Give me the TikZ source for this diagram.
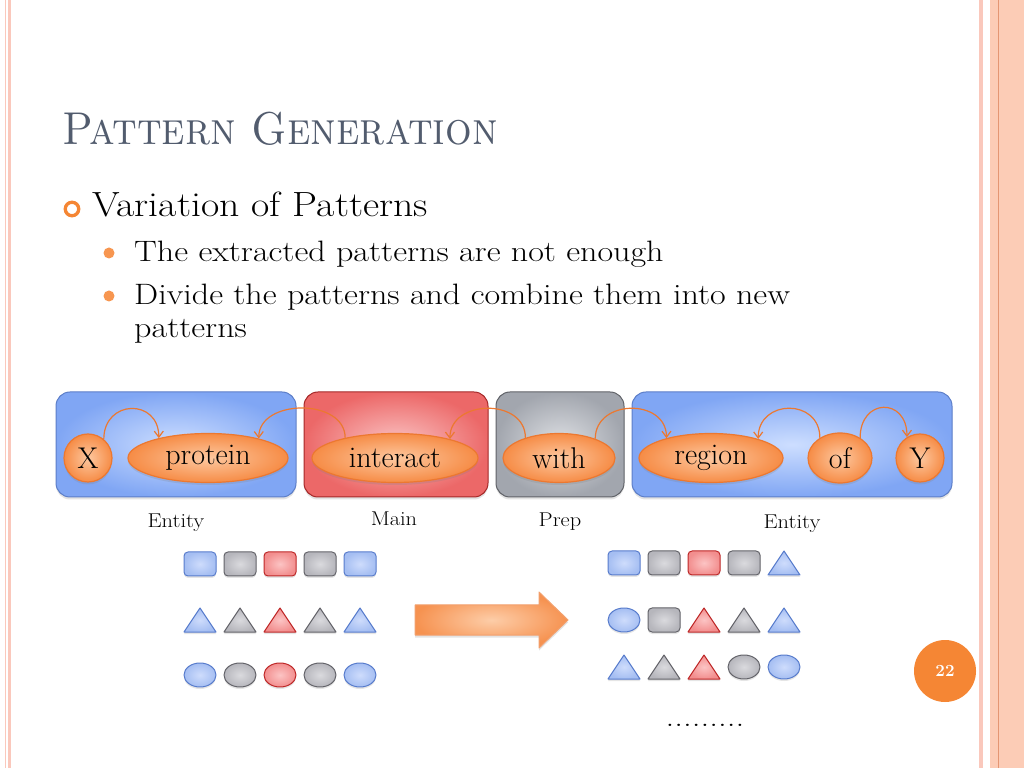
\documentclass[tikz,border=0pt]{standalone}
\usepackage{tikz}
\usetikzlibrary{positioning,shapes.geometric,shadows,arrows.meta}
\definecolor{slideOrange}{RGB}{245,134,52}
\definecolor{bulletOrange}{RGB}{247,150,80}
\definecolor{titleGray}{RGB}{82,92,110}
\definecolor{stripePink}{RGB}{250,200,188}
\definecolor{stripePeach}{RGB}{252,204,182}
\definecolor{stripeLine}{RGB}{228,150,115}
\definecolor{entityInner}{RGB}{205,222,255}
\definecolor{entityOuter}{RGB}{128,166,244}
\definecolor{entityLine}{RGB}{92,126,200}
\definecolor{mainInner}{RGB}{250,196,196}
\definecolor{mainOuter}{RGB}{236,104,104}
\definecolor{mainLine}{RGB}{165,40,40}
\definecolor{prepInner}{RGB}{222,224,228}
\definecolor{prepOuter}{RGB}{162,166,174}
\definecolor{prepLine}{RGB}{96,98,104}
\definecolor{wordInner}{RGB}{253,200,160}
\definecolor{wordOuter}{RGB}{246,140,70}
\definecolor{wordLine}{RGB}{236,120,48}
\definecolor{blueInner}{RGB}{206,220,252}
\definecolor{blueOuter}{RGB}{165,190,242}
\definecolor{blueLine}{RGB}{88,124,204}
\definecolor{grayInner}{RGB}{218,218,222}
\definecolor{grayOuter}{RGB}{182,182,188}
\definecolor{grayLine}{RGB}{100,100,106}
\definecolor{redInner}{RGB}{252,196,196}
\definecolor{redOuter}{RGB}{242,142,142}
\definecolor{redLine}{RGB}{190,40,40}
\definecolor{arrowInner}{RGB}{253,205,168}
\definecolor{arrowOuter}{RGB}{246,146,80}
\definecolor{arrowLine}{RGB}{242,160,110}
\tikzstyle{slide} = [x=1pt, y=1pt]
\tikzstyle{titleText} = [anchor=base west, inner sep=0, color=titleGray, xscale=0.91, font=\fontsize{46}{50}\selectfont\scshape]
\tikzstyle{levelOneText} = [anchor=base west, inner sep=0, xscale=1.135, font=\fontsize{35}{40}\selectfont]
\tikzstyle{levelTwoText} = [anchor=base west, inner sep=0, xscale=1.155, font=\fontsize{29.5}{33}\selectfont]
\tikzstyle{softShadow} = [drop shadow={opacity=0.22, shadow xshift=0pt, shadow yshift=-2.5pt}]
\tikzstyle{groupBox} = [rectangle, rounded corners=14pt, minimum height=105pt, line width=1pt, softShadow]
\tikzstyle{entityBox} = [groupBox, draw=entityLine, inner color=entityInner, outer color=entityOuter]
\tikzstyle{mainBox} = [groupBox, draw=mainLine, inner color=mainInner, outer color=mainOuter]
\tikzstyle{prepBox} = [groupBox, draw=prepLine, inner color=prepInner, outer color=prepOuter]
\tikzstyle{wordNode} = [ellipse, draw=wordLine, line width=1.2pt, inner color=wordInner, outer color=wordOuter, minimum height=49pt, inner sep=0, font=\fontsize{30}{30}\selectfont, softShadow]
\tikzstyle{wordDot} = [wordNode, circle, minimum size=48pt]
\tikzstyle{wordArc} = [draw=wordLine, line width=1.2pt, -{Straight Barb[length=6pt, width=9pt]}]
\tikzstyle{groupLabel} = [anchor=base, inner sep=0, xscale=1.12, font=\fontsize{20}{20}\selectfont]
\tikzstyle{pieceStyle} = [line width=1pt, line join=round, drop shadow={opacity=0.2, shadow xshift=0pt, shadow yshift=-2pt}]
\tikzset{piece/.style={inner color=#1Inner, outer color=#1Outer, draw=#1Line}}
\newcommand{\pieceSquare}[3]{\shadedraw [piece=#3, pieceStyle, rounded corners=4pt] (#1 - 16, #2 - 12) rectangle + (32, 24);}
\newcommand{\pieceTriangle}[3]{\shadedraw [piece=#3, pieceStyle] (#1 - 16, #2 - 12) -- (#1 + 16, #2 - 12) -- (#1, #2 + 12) -- cycle;}
\newcommand{\pieceOval}[3]{\shadedraw [piece=#3, pieceStyle] (#1, #2) ellipse (16pt and 12pt);}

\begin{document}
\begin{tikzpicture}[slide]
\useasboundingbox (0,0) rectangle (1024,768);
\fill [white] (0,0) rectangle (1024,768);
\fill [stripePink] (5,0) rectangle (6.2,768);
\fill [stripePink] (8,0) rectangle (11,768);
\fill [stripePink] (979,0) rectangle (983,768);
\fill [stripePeach] (990,0) rectangle (1024,768);
\draw [stripeLine, line width=1pt] (998,0) -- (998,768);

\node [titleText] (title) at (62,623) {Pattern Generation};
\node [circle, draw=slideOrange, line width=3.3pt, minimum size=13.5pt, inner sep=0] (levelOneBullet) at (72,559) {};
\node [levelOneText] (levelOne) at (92,551) {Variation of Patterns};
\node [circle, fill=bulletOrange, minimum size=11pt, inner sep=0] (levelTwoBulletA) at (109,515) {};
\node [levelTwoText] (levelTwoA) at (134,506) {The extracted patterns are not enough};
\node [circle, fill=bulletOrange, minimum size=11pt, inner sep=0] (levelTwoBulletB) at (109,472) {};
\node [levelTwoText] (levelTwoB) at (134,463) {Divide the patterns and combine them into new};
\node [levelTwoText] (levelTwoC) at (134,430) {patterns};

\node [entityBox, minimum width=240pt] (entityA) at (176,323.5) {};
\node [mainBox, minimum width=184pt] (mainGroup) at (396,323.5) {};
\node [prepBox, minimum width=128pt] (prepGroup) at (560,323.5) {};
\node [entityBox, minimum width=320pt] (entityB) at (792,323.5) {};

\node [wordDot] (X) at (88,310) {X};
\node [wordNode, minimum width=160pt] (protein) at (208,310) {protein};
\node [wordNode, minimum width=166pt] (interact) at (395,310) {interact};
\node [wordNode, minimum width=112pt] (with) at (559,310) {with};
\node [wordNode, minimum width=144pt] (region) at (711,310) {region};
\node [wordNode, minimum width=64pt, minimum height=50pt] (of) at (840,310) {of};
\node [wordDot] (Y) at (920,310) {Y};

\draw [wordArc] (X.50) .. controls +(0,40) and +(0,40) .. (protein.158);
\draw [wordArc] (interact.158) .. controls +(0,40) and +(0,40) .. (protein.21);
\draw [wordArc] (with.149) .. controls +(0,40) and +(0,40) .. (interact.19);
\draw [wordArc] (with.28) .. controls +(0,40) and +(0,40) .. (region.156);
\draw [wordArc] (of.135) .. controls +(0,40) and +(0,40) .. (region.22);
\draw [wordArc] (of.45) .. controls +(0,40) and +(0,40) .. (Y.122);

\node [groupLabel] (entityALabel) at (176,240) {Entity};
\node [groupLabel] (mainLabel) at (394,242) {Main};
\node [groupLabel] (prepLabel) at (560,241) {Prep};
\node [groupLabel] (entityBLabel) at (792,239) {Entity};

\foreach \column/\tone in {1/blue, 2/gray, 3/red, 4/gray, 5/blue} {
  \pgfmathsetmacro{\var}{160 + 40 * \column}
  \pieceSquare{\var}{204}{\tone}
  \pieceTriangle{\var}{148}{\tone}
  \pieceOval{\var}{93}{\tone}
}

\shadedraw [inner color=arrowInner, outer color=arrowOuter, draw=arrowLine, line width=1pt, line join=round, softShadow] (415,133) -- (539,133) -- (539,120) -- (568,148) -- (539,176) -- (539,163) -- (415,163) -- cycle;

\pieceSquare{624}{205}{blue}\pieceSquare{664}{205}{gray}\pieceSquare{704}{205}{red}\pieceSquare{744}{205}{gray}\pieceTriangle{784}{205}{blue}
\pieceOval{624}{148}{blue}\pieceSquare{664}{148}{gray}\pieceTriangle{704}{148}{red}\pieceTriangle{744}{148}{gray}\pieceTriangle{784}{148}{blue}
\pieceTriangle{624}{101}{blue}\pieceTriangle{664}{101}{gray}\pieceTriangle{704}{101}{red}\pieceOval{744}{101}{gray}\pieceOval{784}{101}{blue}
\node [anchor=base, inner sep=0, xscale=1.25, font=\fontsize{28}{28}\selectfont] (moreDots) at (705,42) {.........};

\node [circle, fill=slideOrange, minimum size=62pt, inner sep=0, text=white, font=\fontsize{17}{17}\selectfont\bfseries] (pageNumber) at (945,97) {22};
\end{tikzpicture}
\end{document}
